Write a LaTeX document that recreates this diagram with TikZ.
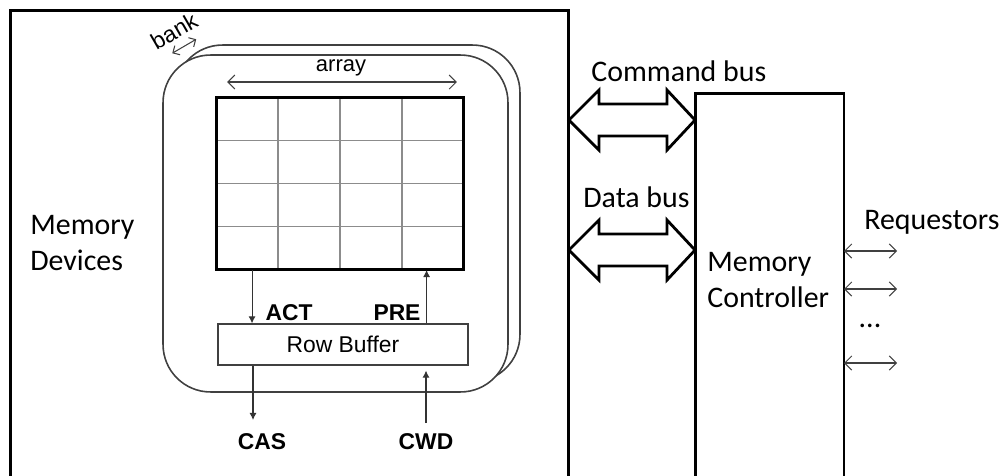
\documentclass[tikz,border=0pt]{standalone}
\usepackage{fontspec}
\setmainfont{Carlito}
\newfontfamily\arialfont{Liberation Sans}
\usetikzlibrary{arrows.meta, positioning, calc}

\begin{document}
\begin{tikzpicture}[x=0.02cm, y=-0.02cm,
    heavy/.style={draw, line width=1.7pt, inner sep=0pt, outer sep=0pt},
    bankbox/.style={draw=black!75, line width=0.9pt, fill=white, rounded corners=0.95cm,
        minimum width=6.9cm, minimum height=6.74cm, inner sep=0pt},
    cell/.style={draw=black!45, line width=0.6pt},
    sig/.style={black!80, line width=0.6pt, -{Latex[length=4pt,width=4pt]}},
    dim/.style={black!75, line width=0.6pt, {Straight Barb[length=4pt,width=8pt]}-{Straight Barb[length=4pt,width=8pt]}},
    bus/.style={line width=1.6pt, line join=miter},
    lbl/.style={font=\fontsize{17}{21}\selectfont, inner sep=0pt, align=left},
    arl/.style={font=\arialfont\fontsize{13}{15}\selectfont, inner sep=0pt},
    arlb/.style={font=\arialfont\bfseries\fontsize{13}{15}\selectfont, inner sep=0pt}]
    \useasboundingbox (0,0) rectangle (1003,476);
    \clip (0,0) rectangle (1003,476);

    % Memory devices and controller
    \node[heavy, minimum width=11.18cm, minimum height=10.2cm] (devices) at (289.5,265) {};
    \node[heavy, minimum width=2.98cm, minimum height=8.54cm] (ctrl) at (769.5,306.5) {};
    \node[lbl, anchor=west] (devlbl) at (30,243) {Memory\\Devices};
    \node[lbl, anchor=west] (ctrllbl) at (707,280) {Memory\\Controller};

    % Banks
    \node[bankbox] (bankback) at (347.5,213.5) {};
    \node[bankbox] (bank) at (335.5,223.5) {};
    \node[arl, rotate=30] (banklbl) at (174,31) {bank};
    \draw[dim, {Straight Barb[length=3pt,width=6pt]}-{Straight Barb[length=3pt,width=6pt]}]
        (bank.north west) ++(10,-1) coordinate (bk1) -- ++(24,-14) coordinate (bk2);

    % Array
    \node[heavy, minimum width=4.96cm, minimum height=3.46cm] (arr) at (340,183.5) {};
    \foreach \i in {1,2,3} {
        \draw[cell] ($(arr.north west)!\i/4!(arr.north east)$) -- ($(arr.south west)!\i/4!(arr.south east)$);
        \draw[cell] ($(arr.north west)!\i/4!(arr.south west)$) -- ($(arr.north east)!\i/4!(arr.south east)$);
    }
    \draw[line width=1.7pt] (arr.north west) rectangle (arr.south east);
    \node[arl, font=\arialfont\fontsize{12.5}{15}\selectfont] (arrlbl) at (341,68) {array};
    \draw[dim] ($(arr.north west)+(11,-15)$) coordinate (a1) -- ($(arr.north east)+(-7,-15)$) coordinate (a2);

    % Row buffer
    \node[draw=black!75, line width=0.7pt, minimum width=5cm, minimum height=0.82cm, inner sep=0pt,
        font=\arialfont\fontsize{13}{15}\selectfont] (rowbuf) at (343,344.5) {Row Buffer};
    \draw[sig] ($(arr.south west)+(36,0)$) coordinate (act) -- (act |- rowbuf.north);
    \draw[sig] ($(rowbuf.north east)+(-42,0)$) coordinate (pre) -- (pre |- arr.south);
    \node[arlb] (actlbl) at (289,313) {ACT};
    \node[arlb] (prelbl) at (397,313) {PRE};

    % Column commands
    \node[arlb] (cas) at (262,442) {CAS};
    \node[arlb] (cwd) at (426,442) {CWD};
    \coordinate (casend) at (253,420);
    \coordinate (cwdbeg) at (426,423);
    \draw[sig] (casend |- rowbuf.south) -- (casend);
    \draw[sig] (cwdbeg) -- ($(cwdbeg |- rowbuf.south)+(0,5)$);

    % Buses
    \coordinate (cmdL) at ($(devices.north east)+(0,110)$);
    \coordinate (cmdR) at (cmdL -| ctrl.west);
    \coordinate (datL) at ($(devices.north east)+(0,240)$);
    \coordinate (datR) at (datL -| ctrl.west);
    \foreach \l/\r in {cmdL/cmdR, datL/datR}
        \draw[bus] (\l) -- ++(30,-30) -- ++(0,14) -- ($(\r)+(-28,-16)$) -- ++(0,-14) -- (\r)
            -- ++(-28,30) -- ++(0,-14) -- ($(\l)+(30,16)$) -- ++(0,14) -- cycle;
    \node[lbl, anchor=west] (cmdlbl) at (591,71) {Command bus};
    \node[lbl, anchor=west] (datlbl) at (583,197) {Data bus};

    % Requestors
    \node[lbl, anchor=west] (reqlbl) at (864,222) {Requestors};
    \foreach \y [count=\i] in {251,289,363} {
        \coordinate (r\i) at (897,\y);
        \draw[dim] (r\i -| ctrl.east) -- (r\i);
    }
    \node[lbl] (dots) at (870,326) {...};
\end{tikzpicture}
\end{document}
